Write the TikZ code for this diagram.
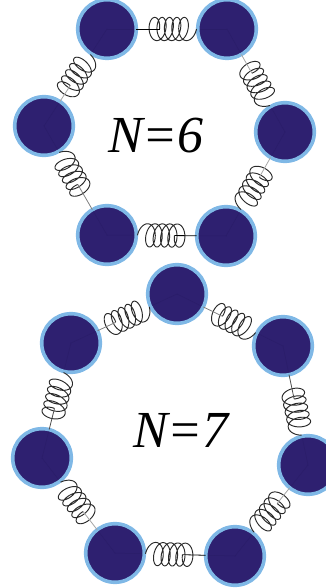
\documentclass[tikz,border=0pt]{standalone}
\usepackage{fontspec}
\setmainfont{Liberation Serif}
\usetikzlibrary{calc}
\definecolor{bead}{HTML}{2E2070}
\definecolor{ring}{HTML}{7FB8E6}
\definecolor{beadline}{HTML}{2A1D69}
\definecolor{coil}{HTML}{2A2A2A}
\tikzset{
  bead/.style={circle,fill=bead,draw=ring,line width=3.6pt,minimum size=58.6pt,inner sep=0pt,outer sep=0pt},
  coilline/.style={coil,line width=.95pt,line join=round},
  lead/.style={line width=.8pt},
  faint/.style={beadline,line width=.5pt},
  caption/.style={font=\fontsize{52}{52}\selectfont\itshape,inner sep=0pt,anchor=base west}
}
\newcommand{\spring}[3]{%
  \pgfmathanglebetweenpoints{\pgfpointanchor{#1}{center}}{\pgfpointanchor{#2}{center}}%
  \let\springangle\pgfmathresult
  \draw[faint] (#1.center) -- ($(#1)!27pt!(#2)$);
  \draw[faint] (#2.center) -- ($(#2)!27pt!(#1)$);
  \begin{scope}[shift={($(#2)!30.5pt!(#1)$)},rotate=\springangle]
    \coordinate (#1s) at (-37,0);
    \draw[coilline] plot[domain=0:1800,samples=240,smooth] ({-37-7.4+7.4*\x/360+(6.2+1.2*((\x-900)/900)^4)*cos(\x)+.8*sin(\x)},{11.6*sin(\x)});
  \end{scope}
  \draw[lead,#3] (#1) -- (#1s);
}
\begin{document}
\begin{tikzpicture}[x=1pt,y=1pt]
\useasboundingbox (0,0) rectangle (326,-588);
\clip (0,0) rectangle (326,-588);
\node[bead] (a1) at (107,-29) {};
\node[bead] (a2) at (227,-29) {};
\node[bead] (a3) at (285,-132) {};
\node[bead] (a4) at (226,-236) {};
\node[bead] (a5) at (107,-235) {};
\node[bead] (a6) at (44,-126) {};
\node[caption] (t6) at (108,-153) {N=6};
\spring{a1}{a2}{black}
\spring{a2}{a3}{gray!70}
\spring{a3}{a4}{gray!70}
\spring{a4}{a5}{black}
\spring{a5}{a6}{gray}
\spring{a6}{a1}{gray!70}
\node[bead] (b1) at (177,-294) {};
\node[bead] (b2) at (283,-346) {};
\node[bead] (b3) at (308,-465) {};
\node[bead] (b4) at (235,-556) {};
\node[bead] (b5) at (115,-553) {};
\node[bead] (b6) at (42,-458) {};
\node[bead] (b7) at (71,-343) {};
\node[caption] (t7) at (133,-447) {N=7};
\spring{b1}{b2}{gray}
\spring{b2}{b3}{black!70}
\spring{b3}{b4}{gray!70}
\spring{b4}{b5}{black}
\spring{b5}{b6}{gray!70}
\spring{b6}{b7}{black!70}
\spring{b7}{b1}{gray}
\end{tikzpicture}
\end{document}
